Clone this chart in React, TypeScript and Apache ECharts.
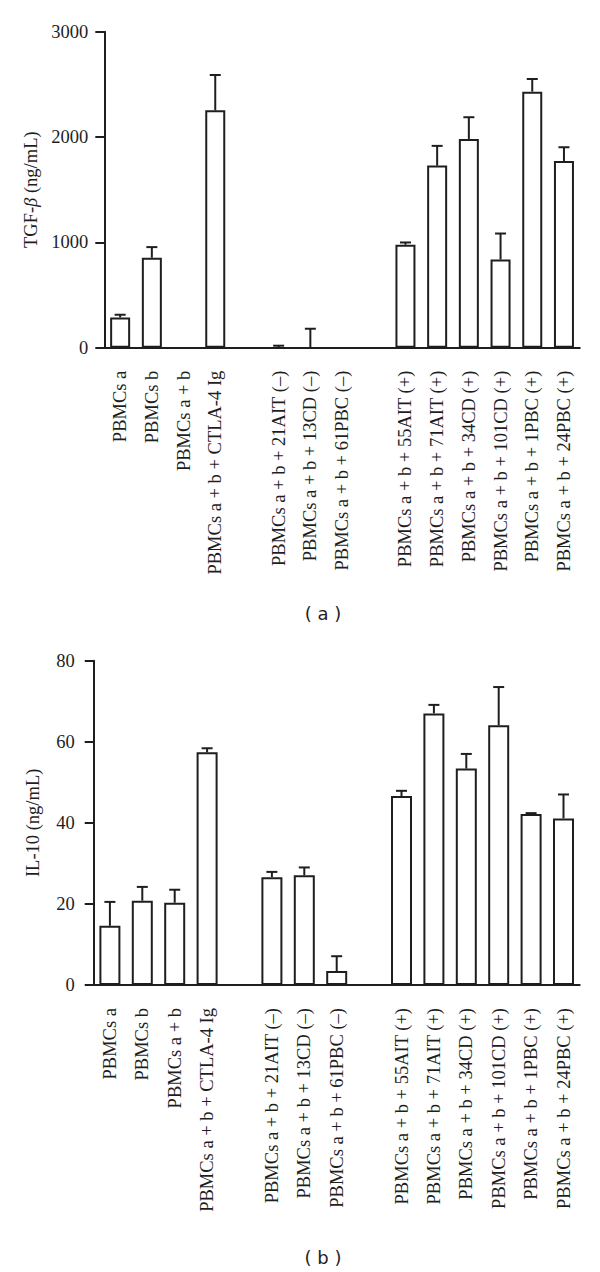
import React, { useEffect, useRef } from "react";
import * as echarts from "echarts";

const categories = [
  "PBMCs a",
  "PBMCs b",
  "PBMCs a + b",
  "PBMCs a + b + CTLA-4 Ig",
  "",
  "PBMCs a + b + 21AIT (–)",
  "PBMCs a + b + 13CD (–)",
  "PBMCs a + b + 61PBC (–)",
  "",
  "PBMCs a + b + 55AIT (+)",
  "PBMCs a + b + 71AIT (+)",
  "PBMCs a + b + 34CD (+)",
  "PBMCs a + b + 101CD (+)",
  "PBMCs a + b + 1PBC (+)",
  "PBMCs a + b + 24PBC (+)",
];

const tgfMean: (number | null)[] = [287, 854, null, 2254, null, null, null, null, null, 977, 1729, 1982, 837, 2431, 1773];
const tgfUpper: (number | null)[] = [313, 955, null, 2589, null, 19, 180, null, null, 999, 1916, 2188, 1084, 2551, 1903];

const il10Mean: (number | null)[] = [14.6, 20.8, 20.3, 57.4, null, 26.6, 27.05, 3.45, null, 46.6, 67.0, 53.4, 64.05, 42.2, 41.1];
const il10Upper: (number | null)[] = [20.5, 24.2, 23.5, 58.4, null, 27.9, 29.0, 7.1, null, 47.9, 69.1, 57.0, 73.5, 42.4, 47.0];

const tgfTicks = { min: 0, max: 3000, interval: 1000 };
const il10Ticks = { min: 0, max: 80, interval: 20 };

const INK = "#1e1e1e";
const SERIF = "Liberation Serif";
const FS = 18.5;

function errData(mean: (number | null)[], upper: (number | null)[]) {
  const out: number[][] = [];
  upper.forEach((u, i) => {
    if (u !== null) out.push([i, mean[i] ?? 0, u]);
  });
  return out;
}

const renderErr = (params: any, api: any) => {
  const x = api.value(0);
  const v = api.value(1);
  const e = api.value(2);
  const p0 = api.coord([x, v]);
  const p1 = api.coord([x, e]);
  const st = { stroke: INK, lineWidth: 2 };
  return {
    type: "group",
    children: [
      { type: "line", shape: { x1: p0[0], y1: p0[1], x2: p1[0], y2: p1[1] }, style: st },
      { type: "line", shape: { x1: p1[0] - 5.5, y1: p1[1], x2: p1[0] + 5.5, y2: p1[1] }, style: st },
    ],
  };
};

export default function App() {
  const ref = useRef<HTMLDivElement>(null);
  useEffect(() => {
    if (!ref.current) return;
    const chart = echarts.init(ref.current, undefined, { renderer: "svg" });

    const xAxisBase = (gridIndex: number) => ({
      type: "category",
      gridIndex,
      data: categories,
      axisLine: { lineStyle: { color: INK, width: 2 } },
      axisTick: { alignWithLabel: true, length: 9, lineStyle: { color: INK, width: 2 }, interval: 0 },
      axisLabel: {
        interval: 0,
        rotate: 90,
        margin: 23,
        fontFamily: SERIF,
        fontSize: FS,
        color: INK,
      },
    });

    const yAxisBase = (gridIndex: number, t: any, name: string, nameGap: number, labelMargin: number) => ({
      type: "value",
      gridIndex,
      min: t.min,
      max: t.max,
      interval: t.interval,
      name,
      nameLocation: "middle",
      nameGap,
      nameRotate: 90,
      nameTextStyle: {
        fontFamily: SERIF,
        fontSize: FS,
        color: INK,
        rich: { i: { fontFamily: SERIF, fontSize: FS, fontStyle: "italic", color: INK } },
      },
      splitLine: { show: false },
      axisLine: { show: true, lineStyle: { color: INK, width: 2 } },
      axisTick: { show: true, length: 9, lineStyle: { color: INK, width: 2 } },
      axisLabel: {
        margin: labelMargin,
        fontFamily: SERIF,
        fontSize: FS,
        color: INK,
        formatter: (v: number) => String(v),
      },
    });

    const barStyle = { color: "#ffffff", borderColor: INK, borderWidth: 2 };

    chart.setOption({
      animation: false,
      backgroundColor: "#ffffff",
      grid: [
        { left: 104.3, top: 31.7, width: 475.5, height: 316 },
        { left: 93.7, top: 660.7, width: 486, height: 324.3 },
      ],
      xAxis: [xAxisBase(0), xAxisBase(1)],
      yAxis: [
        yAxisBase(0, tgfTicks, "TGF-{i|β} (ng/mL)", 63, 16),
        yAxisBase(1, il10Ticks, "IL-10 (ng/mL)", 51, 19),
      ],
      series: [
        {
          type: "bar",
          xAxisIndex: 0,
          yAxisIndex: 0,
          data: tgfMean.map((v) => (v === null ? "-" : v)),
          barWidth: 20,
          itemStyle: barStyle,
          z: 2,
        },
        {
          type: "custom",
          xAxisIndex: 0,
          yAxisIndex: 0,
          data: errData(tgfMean, tgfUpper),
          encode: { x: 0, y: [1, 2] },
          renderItem: renderErr,
          z: 3,
        },
        {
          type: "bar",
          xAxisIndex: 1,
          yAxisIndex: 1,
          data: il10Mean.map((v) => (v === null ? "-" : v)),
          barWidth: 21,
          itemStyle: barStyle,
          z: 2,
        },
        {
          type: "custom",
          xAxisIndex: 1,
          yAxisIndex: 1,
          data: errData(il10Mean, il10Upper),
          encode: { x: 0, y: [1, 2] },
          renderItem: renderErr,
          z: 3,
        },
      ],
      graphic: [
        {
          type: "text",
          x: 323,
          y: 613,
          style: {
            text: "( a )",
            fontFamily: "DejaVu Sans",
            fontSize: 18,
            fill: INK,
            align: "center",
            verticalAlign: "middle",
          },
        },
        {
          type: "text",
          x: 323,
          y: 1257,
          style: {
            text: "( b )",
            fontFamily: "DejaVu Sans",
            fontSize: 18,
            fill: INK,
            align: "center",
            verticalAlign: "middle",
          },
        },
      ],
    });
    return () => chart.dispose();
  }, []);

  return (
    <div
      ref={ref}
      style={{ position: "absolute", left: 0, top: 0, width: 600, height: 1272, background: "#fff" }}
    />
  );
}
